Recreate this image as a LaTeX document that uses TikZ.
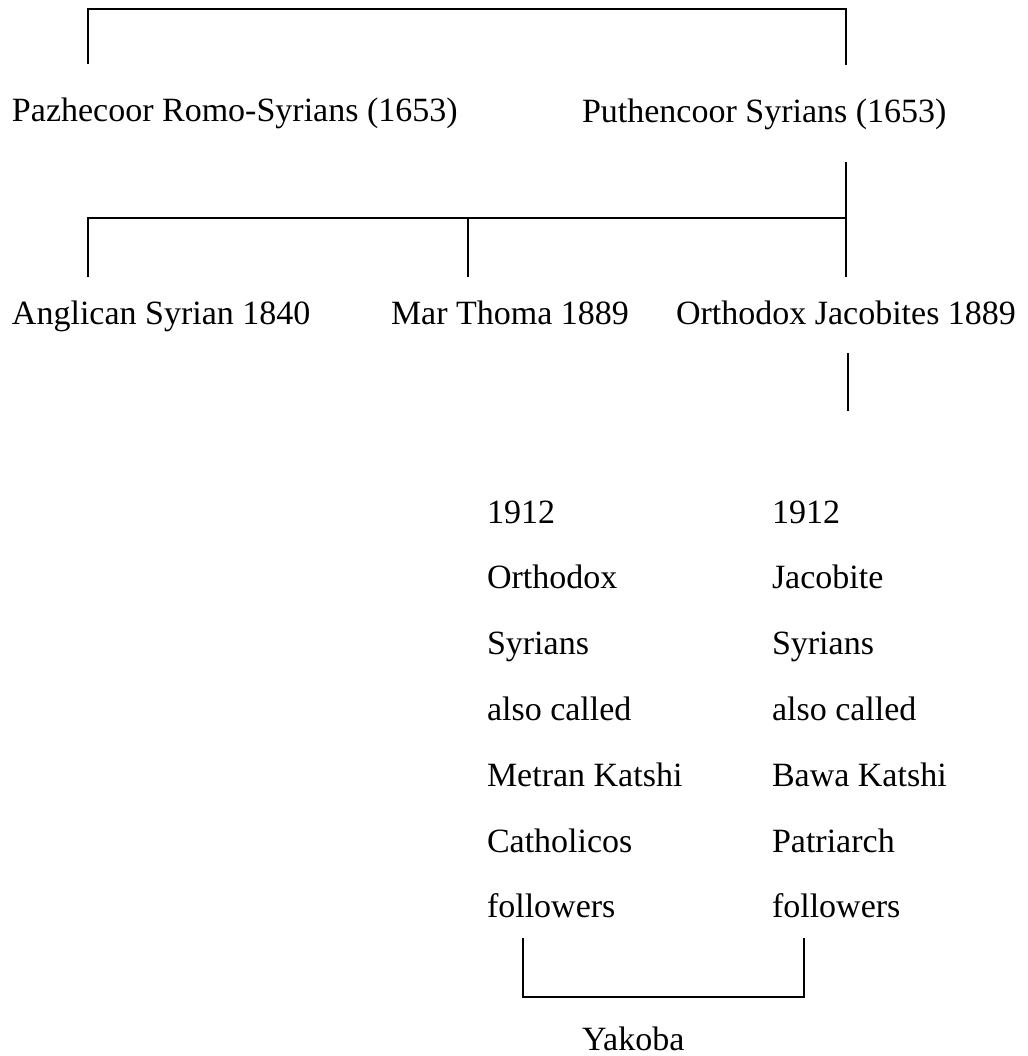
\documentclass[tikz,border=0pt]{standalone}
\usepackage{fontspec}
\setmainfont{Liberation Serif}
\begin{document}
\begin{tikzpicture}[x=1pt,y=-1pt,
  lbl/.style={anchor=base west,inner sep=0pt,outer sep=0pt,font=\fontsize{34}{40}\selectfont},
  link/.style={line width=1.3pt,line cap=butt,line join=miter}]
\useasboundingbox (0,0) rectangle (1027,1056);
% texts
\node[lbl] (paz) at (12,122) {Pazhecoor Romo-Syrians (1653)};
\node[lbl] (put) at (582,123) {Puthencoor Syrians (1653)};
\node[lbl] (ang) at (12,324) {Anglican Syrian 1840};
\node[lbl] (mar) at (391,324) {Mar Thoma 1889};
\node[lbl] (orj) at (676,324) {Orthodox Jacobites 1889};
\foreach \t [count=\i from 0] in {1912,Orthodox,Syrians,also called,Metran Katshi,Catholicos,followers}
  \node[lbl] (l\i) at (487,523+65.8*\i) {\t};
\foreach \t [count=\i from 0] in {1912,Jacobite,Syrians,also called,Bawa Katshi,Patriarch,followers}
  \node[lbl] (r\i) at (772,523+65.8*\i) {\t};
\node[lbl] (yak) at (582,1050) {Yakoba};
% bracket points
\coordinate (a1) at (88,64);
\coordinate (a2) at (88,9);
\coordinate (a3) at (846,9);
\coordinate (a4) at (846,65);
\coordinate (b1) at (846,162);
\coordinate (b2) at (846,218);
\coordinate (b3) at (846,277);
\coordinate (c1) at (88,218);
\coordinate (c2) at (88,277);
\coordinate (m1) at (468,218);
\coordinate (m2) at (468,277);
\coordinate (d1) at (848,353);
\coordinate (d2) at (848,411);
\coordinate (e1) at (523,938);
\coordinate (e2) at (523,997);
\coordinate (e3) at (804,997);
\coordinate (e4) at (804,938);
% connectors
\draw[link] (a1) -- (a2) -- (a3) -- (a4);
\draw[link] (b1) -- (b3);
\draw[link] (c2) -- (c1) -- (b2);
\draw[link] (m1) -- (m2);
\draw[link] (d1) -- (d2);
\draw[link] (e1) -- (e2) -- (e3) -- (e4);
\end{tikzpicture}
\end{document}
